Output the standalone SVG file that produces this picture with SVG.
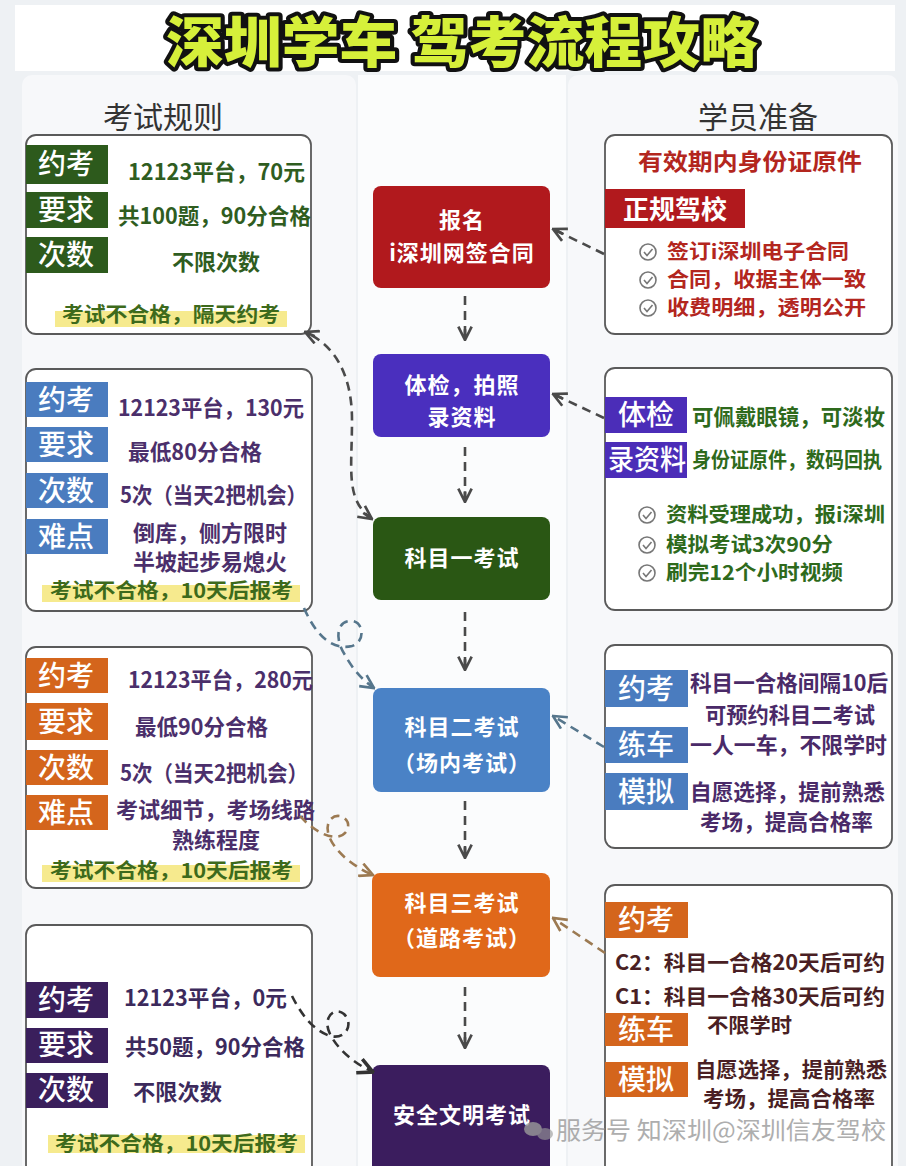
<svg xmlns="http://www.w3.org/2000/svg" width="906" height="1166" viewBox="0 0 906 1166">
<style>
text{font-family:"Noto Sans CJK SC","Noto Sans",sans-serif}
.box{fill:#fff;stroke:#5a5a5a;stroke-width:1.8}
.tag{font-size:28px;fill:#fff;text-anchor:middle;font-weight:500}
.v{font-size:22px;font-weight:700}
.s{font-size:20px;font-weight:700}
.nt{font-size:22px;font-weight:700;fill:#fff;text-anchor:middle;letter-spacing:1px}
.hl{fill:#f4e67a;opacity:0.85}
.hlt{font-size:20px;font-weight:700;fill:#3d6a1c}
.hd{font-size:30px;fill:#333}
.dash{fill:none;stroke-width:2.6;stroke-dasharray:9 6}
.g1{stroke:#4a4a4a}.g2{stroke:#56768c}.g3{stroke:#9c7a52}.g4{stroke:#333}
.chk circle{fill:none;stroke:#777;stroke-width:1.6}
.chk path{fill:none;stroke:#777;stroke-width:1.6}
</style>
<defs>
<marker id="m1" viewBox="0 0 12 12" refX="11" refY="6" markerWidth="16" markerHeight="16" markerUnits="userSpaceOnUse" orient="auto-start-reverse"><path d="M1,1 L11,6 L1,11 M3,6 L11,6" fill="none" stroke="#4a4a4a" stroke-width="2"/></marker>
<marker id="m2" viewBox="0 0 12 12" refX="11" refY="6" markerWidth="16" markerHeight="16" markerUnits="userSpaceOnUse" orient="auto-start-reverse"><path d="M1,1 L11,6 L1,11" fill="none" stroke="#56768c" stroke-width="2"/></marker>
<marker id="m3" viewBox="0 0 12 12" refX="11" refY="6" markerWidth="16" markerHeight="16" markerUnits="userSpaceOnUse" orient="auto-start-reverse"><path d="M1,1 L11,6 L1,11" fill="none" stroke="#9c7a52" stroke-width="2"/></marker>
<marker id="m4" viewBox="0 0 12 12" refX="11" refY="6" markerWidth="18" markerHeight="18" markerUnits="userSpaceOnUse" orient="auto-start-reverse"><path d="M1,1 L11,6 L1,11" fill="none" stroke="#333" stroke-width="2.4"/></marker>
<g id="chk" class="chk"><circle r="8"/><path d="M-4,0 L-1,3.5 L4.5,-3"/></g>
</defs>
<rect width="906" height="1166" fill="#eef1f4"/>
<rect x="15" y="5" width="880" height="66" fill="#ffffff"/>
<rect x="22" y="75" width="334" height="1100" rx="10" fill="#f7f8fa"/>
<rect x="568" y="75" width="330" height="1100" rx="10" fill="#f7f8fa"/>
<rect x="358" y="75" width="208" height="1100" fill="#fbfcfd"/>

<g id="title">
<text x="462" y="62" text-anchor="middle" font-size="55" font-weight="900" fill="#d6f03a" stroke="#111" stroke-width="8" stroke-linejoin="round" paint-order="stroke" textLength="592" lengthAdjust="spacingAndGlyphs">深圳学车 驾考流程攻略</text>
</g>
<g id="headers">
<text class="hd" x="163" y="128" text-anchor="middle">考试规则</text>
<text class="hd" x="758" y="128" text-anchor="middle">学员准备</text>
</g>

<!-- Left panel 1 -->
<g id="rules-1">
<rect class="box" x="26" y="135" width="285" height="199" rx="10"/>
<g fill="#2d5a1c"><rect x="26" y="145" width="82" height="39"/><rect x="26" y="192" width="82" height="36"/><rect x="26" y="237" width="82" height="36"/></g>
<text class="tag" x="66" y="174">约考</text><text class="tag" x="66" y="220">要求</text><text class="tag" x="66" y="265">次数</text>
<g class="v" fill="#2f5d1f">
<text x="128" y="180" textLength="177" lengthAdjust="spacingAndGlyphs">12123平台，70元</text>
<text x="118" y="224" textLength="193" lengthAdjust="spacingAndGlyphs">共100题，90分合格</text>
<text x="172" y="270" textLength="88" lengthAdjust="spacingAndGlyphs">不限次数</text>
</g>
<rect class="hl" x="55" y="311" width="232" height="16"/>
<text class="hlt" x="62" y="322" textLength="218" lengthAdjust="spacingAndGlyphs">考试不合格，隔天约考</text>
</g>

<!-- Left panel 2 -->
<g id="rules-2">
<rect class="box" x="26" y="369" width="286" height="242" rx="10"/>
<g fill="#4a7cbf"><rect x="26" y="382" width="82" height="35"/><rect x="26" y="427" width="82" height="35"/><rect x="26" y="473" width="82" height="35"/><rect x="26" y="519" width="82" height="35"/></g>
<text class="tag" x="66" y="410">约考</text><text class="tag" x="66" y="455">要求</text><text class="tag" x="66" y="501">次数</text><text class="tag" x="66" y="547">难点</text>
<g class="v" fill="#4b2f6b">
<text x="118" y="416" textLength="186" lengthAdjust="spacingAndGlyphs">12123平台，130元</text>
<text x="128" y="460" textLength="134" lengthAdjust="spacingAndGlyphs">最低80分合格</text>
<text x="120" y="503" textLength="187" lengthAdjust="spacingAndGlyphs">5次（当天2把机会）</text>
<text x="133" y="541" textLength="154" lengthAdjust="spacingAndGlyphs">倒库，侧方限时</text>
<text x="133" y="570" textLength="154" lengthAdjust="spacingAndGlyphs">半坡起步易熄火</text>
</g>
<rect class="hl" x="42" y="585" width="258" height="17"/>
<text class="hlt" x="50" y="598" textLength="243" lengthAdjust="spacingAndGlyphs">考试不合格，10天后报考</text>
</g>

<!-- Left panel 3 -->
<g id="rules-3">
<rect class="box" x="26" y="647" width="286" height="241" rx="10"/>
<g fill="#d4651c"><rect x="26" y="658" width="82" height="35"/><rect x="26" y="703" width="82" height="37"/><rect x="26" y="750" width="82" height="35"/><rect x="26" y="795" width="82" height="35"/></g>
<text class="tag" x="66" y="686">约考</text><text class="tag" x="66" y="732">要求</text><text class="tag" x="66" y="778">次数</text><text class="tag" x="66" y="823">难点</text>
<g class="v" fill="#4b2f6b">
<text x="128" y="688" textLength="185" lengthAdjust="spacingAndGlyphs">12123平台，280元</text>
<text x="135" y="735" textLength="133" lengthAdjust="spacingAndGlyphs">最低90分合格</text>
<text x="120" y="781" textLength="188" lengthAdjust="spacingAndGlyphs">5次（当天2把机会）</text>
<text x="116" y="818" textLength="199" lengthAdjust="spacingAndGlyphs">考试细节，考场线路</text>
<text x="172" y="848" textLength="88" lengthAdjust="spacingAndGlyphs">熟练程度</text>
</g>
<rect class="hl" x="42" y="865" width="258" height="17"/>
<text class="hlt" x="50" y="878" textLength="243" lengthAdjust="spacingAndGlyphs">考试不合格，10天后报考</text>
</g>

<!-- Left panel 4 -->
<g id="rules-4">
<rect class="box" x="26" y="925" width="286" height="250" rx="10"/>
<g fill="#3a1f5c"><rect x="26" y="982" width="82" height="36"/><rect x="26" y="1028" width="82" height="35"/><rect x="26" y="1073" width="82" height="35"/></g>
<text class="tag" x="66" y="1010">约考</text><text class="tag" x="66" y="1055">要求</text><text class="tag" x="66" y="1100">次数</text>
<g class="v" fill="#3c2a5c" font-weight="500">
<text x="124" y="1006" textLength="163" lengthAdjust="spacingAndGlyphs">12123平台，0元</text>
<text x="125" y="1055" textLength="180" lengthAdjust="spacingAndGlyphs">共50题，90分合格</text>
<text x="133" y="1100" textLength="89" lengthAdjust="spacingAndGlyphs">不限次数</text>
</g>
<rect class="hl" x="48" y="1135" width="257" height="18"/>
<text class="hlt" x="55" y="1151" textLength="243" lengthAdjust="spacingAndGlyphs">考试不合格，10天后报考</text>
</g>

<!-- Center nodes -->
<g id="n-baoming"><rect x="373" y="186" width="177" height="102" rx="8" fill="#b1191d"/>
<text class="nt" x="462" y="228">报名</text><text class="nt" x="462" y="261">i深圳网签合同</text></g>
<g id="n-tijian"><rect x="373" y="354" width="177" height="83" rx="8" fill="#4a2fbe"/>
<text class="nt" x="462" y="393">体检，拍照</text><text class="nt" x="462" y="425">录资料</text></g>
<g id="n-k1"><rect x="373" y="517" width="177" height="83" rx="8" fill="#2a5714"/>
<text class="nt" x="462" y="566">科目一考试</text></g>
<g id="n-k2"><rect x="373" y="688" width="177" height="104" rx="8" fill="#4a82c6"/>
<text class="nt" x="462" y="735">科目二考试</text><text class="nt" x="462" y="771">（场内考试）</text></g>
<g id="n-k3"><rect x="372" y="873" width="178" height="104" rx="8" fill="#e0681a"/>
<text class="nt" x="462" y="911">科目三考试</text><text class="nt" x="462" y="946">（道路考试）</text></g>
<g id="n-aq"><rect x="372" y="1065" width="178" height="110" rx="8" fill="#3b1d5e"/>
<text class="nt" x="462" y="1123">安全文明考试</text></g>

<!-- Right panel 1 -->
<g id="prep-1">
<rect class="box" x="605" y="135" width="287" height="199" rx="10"/>
<text x="638" y="170" font-size="23" font-weight="700" fill="#b3261e" textLength="224" lengthAdjust="spacingAndGlyphs">有效期内身份证原件</text>
<rect x="605" y="189" width="140" height="39" fill="#b1191d"/>
<text x="623" y="219" font-size="26" font-weight="700" fill="#fff" textLength="104" lengthAdjust="spacingAndGlyphs">正规驾校</text>
<use href="#chk" x="648" y="252"/><use href="#chk" x="648" y="280"/><use href="#chk" x="648" y="308"/>
<g class="s" fill="#b3261e">
<text x="667" y="259" textLength="182" lengthAdjust="spacingAndGlyphs">签订i深圳电子合同</text>
<text x="667" y="287" textLength="199" lengthAdjust="spacingAndGlyphs">合同，收据主体一致</text>
<text x="667" y="315" textLength="199" lengthAdjust="spacingAndGlyphs">收费明细，透明公开</text>
</g>
</g>

<!-- Right panel 2 -->
<g id="prep-2">
<rect class="box" x="605" y="368" width="287" height="242" rx="10"/>
<g fill="#4b2db8"><rect x="605" y="397" width="82" height="36"/><rect x="605" y="442" width="82" height="36"/></g>
<text class="tag" x="646" y="425">体检</text><text class="tag" x="647" y="470" font-size="26" textLength="78" lengthAdjust="spacingAndGlyphs" style="text-anchor:middle">录资料</text>
<g class="v" fill="#2e6a1c">
<text x="692" y="425" textLength="193" lengthAdjust="spacingAndGlyphs">可佩戴眼镜，可淡妆</text>
<text x="692" y="467" font-size="21" textLength="190" lengthAdjust="spacingAndGlyphs">身份证原件，数码回执</text>
</g>
<g class="s" fill="#2e6a1c">
<text x="666" y="522" textLength="219" lengthAdjust="spacingAndGlyphs">资料受理成功，报i深圳</text>
<text x="666" y="552" textLength="167" lengthAdjust="spacingAndGlyphs">模拟考试3次90分</text>
<text x="666" y="580" textLength="177" lengthAdjust="spacingAndGlyphs">刷完12个小时视频</text>
</g>
<use href="#chk" x="647" y="515"/><use href="#chk" x="647" y="545"/><use href="#chk" x="647" y="573"/>
</g>

<!-- Right panel 3 -->
<g id="prep-3">
<rect class="box" x="605" y="645" width="287" height="203" rx="10"/>
<g fill="#4a7cbf"><rect x="605" y="670" width="83" height="37"/><rect x="605" y="727" width="83" height="36"/><rect x="605" y="773" width="83" height="37"/></g>
<text class="tag" x="646" y="699">约考</text><text class="tag" x="646" y="755">练车</text><text class="tag" x="646" y="802">模拟</text>
<g class="v" fill="#4a2a68">
<text x="690" y="691" textLength="198" lengthAdjust="spacingAndGlyphs">科目一合格间隔10后</text>
<text x="705" y="723" textLength="170" lengthAdjust="spacingAndGlyphs">可预约科目二考试</text>
<text x="690" y="753" textLength="197" lengthAdjust="spacingAndGlyphs">一人一车，不限学时</text>
<text x="690" y="800" textLength="195" lengthAdjust="spacingAndGlyphs">自愿选择，提前熟悉</text>
<text x="700" y="830" textLength="173" lengthAdjust="spacingAndGlyphs">考场，提高合格率</text>
</g>
</g>

<!-- Right panel 4 -->
<g id="prep-4">
<rect class="box" x="605" y="885" width="287" height="290" rx="10"/>
<g fill="#d4651c"><rect x="605" y="902" width="83" height="36"/><rect x="605" y="1013" width="83" height="33"/><rect x="605" y="1062" width="83" height="35"/></g>
<text class="tag" x="646" y="930">约考</text><text class="tag" x="646" y="1040" font-size="26">练车</text><text class="tag" x="646" y="1090">模拟</text>
<g class="s" fill="#4a1f24">
<text x="615" y="970" font-size="21" textLength="270" lengthAdjust="spacingAndGlyphs">C2：科目一合格20天后可约</text>
<text x="615" y="1004" font-size="21" textLength="270" lengthAdjust="spacingAndGlyphs">C1：科目一合格30天后可约</text>
<text x="707" y="1033" textLength="85" lengthAdjust="spacingAndGlyphs">不限学时</text>
<text x="695" y="1077" font-size="21" textLength="192" lengthAdjust="spacingAndGlyphs">自愿选择，提前熟悉</text>
<text x="703" y="1106" font-size="21" textLength="172" lengthAdjust="spacingAndGlyphs">考场，提高合格率</text>
</g>
</g>

<!-- Connectors -->
<g id="connectors">
<g class="dash g1">
<path d="M465,296 L465,340" marker-end="url(#m1)"/>
<path d="M465,447 L465,502" marker-end="url(#m1)"/>
<path d="M465,612 L465,670" marker-end="url(#m1)"/>
<path d="M465,801 L465,858" marker-end="url(#m1)"/>
<path d="M465,987 L465,1048" marker-end="url(#m1)"/>
<path d="M604,254 L553,229" marker-end="url(#m1)"/>
<path d="M604,418 L553,394" marker-end="url(#m1)"/>
<path d="M372,519 C345,500 352,470 352,420 C352,375 335,345 305,332" marker-end="url(#m1)" marker-start="url(#m1)"/>
</g>
<path class="dash g2" d="M604,747 L553,716" marker-end="url(#m2)"/>
<path class="dash g3" d="M605,953 L553,918" marker-end="url(#m3)"/>
<path class="dash g2" d="M304,608 C318,640 335,650 352,646 C366,642 364,620 350,621 C336,622 335,640 345,655 C352,668 362,680 374,688" marker-end="url(#m2)"/>
<path class="dash g3" d="M300,816 C318,836 338,842 346,832 C354,820 338,810 330,820 C322,832 335,850 348,860 C358,868 366,872 373,875" marker-end="url(#m3)"/>
<path class="dash g4" d="M292,996 C300,1012 312,1030 330,1036 C346,1040 354,1024 344,1014 C334,1006 322,1018 330,1034 C338,1050 355,1064 373,1072" marker-end="url(#m4)"/>
</g>

<g id="watermark" fill="#9a9a9a" opacity="0.8">
<ellipse cx="533" cy="1129" rx="9" ry="7"/><ellipse cx="545" cy="1134" rx="8" ry="6" opacity="0.8"/>
<text x="556" y="1139" font-size="24" textLength="330" lengthAdjust="spacingAndGlyphs">服务号 知深圳@深圳信友驾校</text>
</g>
</svg>
